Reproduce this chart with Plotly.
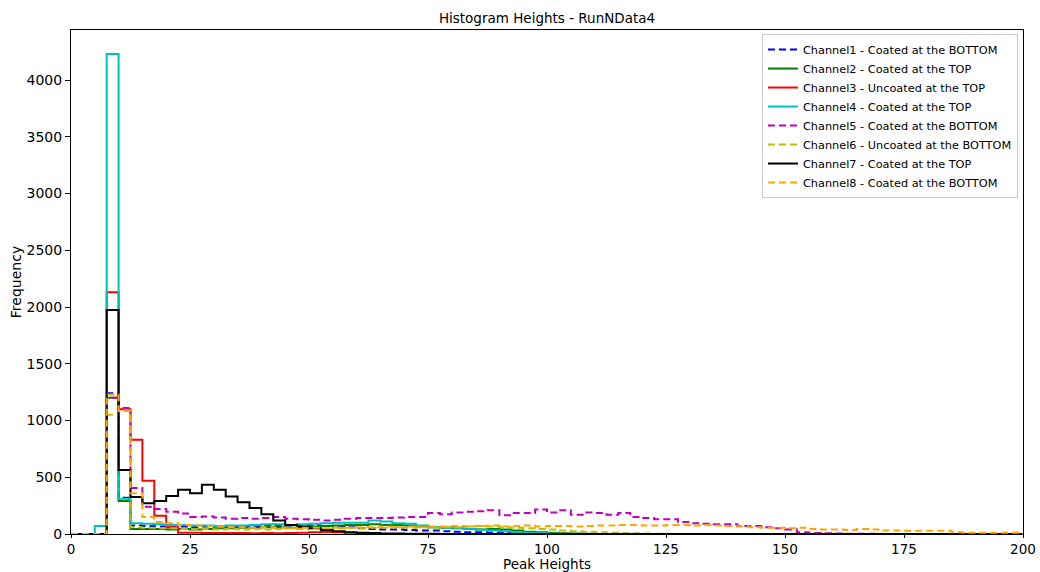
import plotly.graph_objects as go

# Histogram bin edges: 0 .. 200 in steps of 2.5 (80 bins)
bin_width = 2.5
n_bins = 80

x_ticks = [0, 25, 50, 75, 100, 125, 150, 175, 200]
y_ticks = [0, 500, 1000, 1500, 2000, 2500, 3000, 3500, 4000]

names = [
    "Channel1 - Coated at the BOTTOM",
    "Channel2 - Coated at the TOP",
    "Channel3 - Uncoated at the TOP",
    "Channel4 - Coated at the TOP",
    "Channel5 - Coated at the BOTTOM",
    "Channel6 - Uncoated at the BOTTOM",
    "Channel7 - Coated at the TOP",
    "Channel8 - Coated at the BOTTOM",
]

ch1 = [
    0, 0, 0, 1240, 320, 75, 70, 65, 60, 65,
    60, 65, 70, 60, 65, 70, 75, 70, 75, 80,
    75, 70, 65, 60, 50, 45, 40, 40, 35, 30,
    30, 25, 20, 15, 15, 12, 10, 8, 6, 4,
    3, 2, 1, 0, 0, 0, 0, 0, 0, 0,
    0, 0, 0, 0, 0, 0, 0, 0, 0, 0,
    0, 0, 0, 0, 0, 0, 0, 0, 0, 0,
    0, 0, 0, 0, 0, 0, 0, 0, 0, 0,
]
ch2 = [
    0, 0, 0, 1200, 290, 45, 45, 45, 40, 45,
    40, 45, 50, 50, 55, 55, 60, 60, 55, 60,
    65, 70, 75, 80, 80, 85, 80, 80, 75, 65,
    60, 55, 50, 45, 40, 45, 40, 30, 20, 15,
    10, 6, 4, 2, 1, 0, 0, 0, 0, 0,
    0, 0, 0, 0, 0, 0, 0, 0, 0, 0,
    0, 0, 0, 0, 0, 0, 0, 0, 0, 0,
    0, 0, 0, 0, 0, 0, 0, 0, 0, 0,
]
ch3 = [
    0, 0, 0, 2130, 1100, 830, 470, 160, 60, 12,
    10, 8, 8, 8, 8, 6, 8, 6, 8, 10,
    15, 18, 15, 10, 3, 0, 0, 0, 0, 0,
    0, 0, 0, 0, 0, 0, 0, 0, 0, 0,
    0, 0, 0, 0, 0, 0, 0, 0, 0, 0,
    0, 0, 0, 0, 0, 0, 0, 0, 0, 0,
    0, 0, 0, 0, 0, 0, 0, 0, 0, 0,
    0, 0, 0, 0, 0, 0, 0, 0, 0, 0,
]
ch4 = [
    0, 0, 70, 4230, 310, 95, 90, 85, 80, 80,
    75, 75, 70, 75, 75, 80, 85, 85, 80, 85,
    90, 95, 100, 100, 100, 120, 110, 95, 90, 75,
    60, 55, 55, 45, 40, 30, 25, 15, 10, 8,
    5, 3, 2, 1, 0, 0, 0, 0, 0, 0,
    0, 0, 0, 0, 0, 0, 0, 0, 0, 0,
    0, 0, 0, 0, 0, 0, 0, 0, 0, 0,
    0, 0, 0, 0, 0, 0, 0, 0, 0, 0,
]
ch5 = [
    0, 0, 0, 1200, 1110, 405, 240, 220, 195, 180,
    150, 155, 145, 135, 140, 135, 140, 150, 135, 130,
    125, 120, 125, 135, 140, 140, 140, 145, 150, 150,
    185, 175, 190, 195, 200, 210, 165, 185, 185, 215,
    190, 210, 170, 190, 185, 170, 185, 150, 140, 130,
    130, 105, 95, 90, 85, 85, 70, 70, 60, 50,
    40, 15, 8, 6, 4, 3, 2, 2, 1, 1,
    1, 0, 0, 0, 0, 0, 0, 0, 0, 0,
]
ch6 = [
    0, 0, 0, 1050, 1090, 60, 55, 50, 50, 45,
    40, 45, 40, 45, 40, 45, 40, 45, 50, 45,
    50, 45, 50, 55, 50, 55, 55, 60, 55, 60,
    55, 60, 60, 65, 70, 65, 60, 55, 50, 45,
    40, 30, 25, 20, 15, 10, 8, 6, 4, 3,
    2, 1, 1, 0, 0, 0, 0, 0, 0, 0,
    0, 0, 0, 0, 0, 0, 0, 0, 0, 0,
    0, 0, 0, 0, 0, 0, 0, 0, 0, 0,
]
ch7 = [
    0, 0, 0, 1975, 565, 325, 270, 290, 335, 390,
    360, 435, 390, 330, 280, 230, 175, 120, 80, 65,
    50, 35, 25, 15, 10, 8, 5, 4, 3, 2,
    2, 1, 1, 1, 0, 0, 0, 0, 0, 0,
    0, 0, 0, 0, 0, 0, 0, 0, 0, 0,
    0, 0, 0, 0, 0, 0, 0, 0, 0, 0,
    0, 0, 0, 0, 0, 0, 0, 0, 0, 0,
    0, 0, 0, 0, 0, 0, 0, 0, 0, 0,
]
ch8 = [
    0, 0, 0, 1230, 1085, 360, 150, 105, 95, 80,
    75, 70, 65, 60, 60, 55, 60, 55, 50, 55,
    55, 50, 55, 55, 60, 60, 65, 60, 65, 60,
    65, 65, 70, 65, 70, 75, 65, 70, 75, 65,
    70, 70, 65, 70, 75, 75, 80, 80, 75, 75,
    80, 80, 75, 80, 75, 70, 65, 60, 55, 55,
    50, 55, 45, 40, 40, 35, 45, 40, 30, 30,
    28, 28, 28, 28, 15, 12, 12, 12, 10, 10,
]

series = [ch1, ch2, ch3, ch4, ch5, ch6, ch7, ch8]
colors = ["#0000ff", "#008000", "#ff0000", "#00bfbf",
          "#bf00bf", "#bfbf00", "#000000", "#ffa500"]
dashed = [True, False, False, False, True, True, False, True]

edges = [i * bin_width for i in range(n_bins + 1)]


def step_xy(counts):
    xs = [edges[0]] + edges[:-1] + [edges[-1], edges[-1]]
    ys = [0] + list(counts) + [counts[-1], 0]
    return xs, ys


fig = go.Figure()
for name, counts, color, dsh in zip(names, series, colors, dashed):
    xs, ys = step_xy(counts)
    fig.add_trace(go.Scatter(
        x=xs, y=ys, mode="lines", name=name,
        line=dict(shape="hv", color=color, width=2,
                  dash="7px,4px" if dsh else "solid"),
        hoverinfo="skip",
    ))

font_family = "DejaVu Sans, Liberation Sans, sans-serif"
ymax = max(max(s) for s in series) * 1.05

fig.update_layout(
    template="none",
    width=1040, height=572,
    margin=dict(l=71, r=17, t=30, b=38, autoexpand=False),
    paper_bgcolor="white", plot_bgcolor="white",
    font=dict(family=font_family, size=14, color="black"),
    title=dict(text="Histogram Heights - RunNData4",
               x=0.5, xref="paper", xanchor="center",
               y=1 - 18 / 572, yref="container", yanchor="middle",
               font=dict(size=13.5, color="black")),
    showlegend=True,
    legend=dict(
        x=0.9947, xanchor="right", y=0.992, yanchor="top",
        bgcolor="rgba(255,255,255,0.9)", bordercolor="#cccccc", borderwidth=1,
        font=dict(size=11.3, color="black"),
        itemwidth=30, tracegroupgap=0,
    ),
    annotations=[dict(
        text="Peak Heights", x=0.5, xref="paper", xanchor="center",
        y=-30 / 504, yref="paper", yanchor="middle",
        showarrow=False, font=dict(size=13.5, color="black"),
        borderpad=0,
    )],
)
fig.update_xaxes(
    range=[0, 200], tickvals=x_ticks, ticktext=[str(v) for v in x_ticks],
    showline=True, mirror=True, linecolor="black", linewidth=1,
    ticks="outside", ticklen=3, tickwidth=1, tickcolor="black",
    showgrid=False, zeroline=False, automargin=False,
    tickfont=dict(size=13.5),
)
fig.update_yaxes(
    range=[0, ymax], tickvals=y_ticks, ticktext=[str(v) for v in y_ticks],
    showline=True, mirror=True, linecolor="black", linewidth=1,
    ticks="outside", ticklen=5, tickwidth=1, tickcolor="black",
    showgrid=False, zeroline=False, automargin=False,
    tickfont=dict(size=14),
    title=dict(text="Frequency", font=dict(size=14), standoff=1),
)

fig.write_html("out.html")
